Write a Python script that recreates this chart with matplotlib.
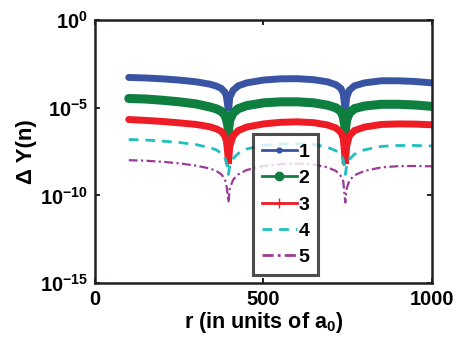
"""Log-scale error profiles Delta Y(n) against radius for five orders."""

import matplotlib
matplotlib.use("Agg")
import matplotlib.pyplot as plt
from matplotlib.lines import Line2D
import numpy as np

plt.rcParams["font.family"] = ["Liberation Sans", "DejaVu Sans"]
plt.rcParams["font.weight"] = "bold"
plt.rcParams["mathtext.fontset"] = "custom"
plt.rcParams["mathtext.rm"] = "Liberation Sans:bold"
plt.rcParams["mathtext.bf"] = "Liberation Sans:bold"
plt.rcParams["mathtext.it"] = "Liberation Sans:bold"

# radius in units of a0
r = [100, 150, 200, 250, 300, 340, 360, 375, 385, 390, 394, 396, 400, 410,
     425, 450, 500, 550, 600, 650, 690, 715, 730, 737, 741, 743, 747, 755,
     770, 800, 850, 900, 950, 1000]

# log10 of Delta Y(n) for n = 1..5
logdy_1 = [-3.27, -3.30, -3.35, -3.42, -3.52, -3.65, -3.76, -3.90, -4.10, -4.35,
           -4.90, -5.20, -4.40, -4.00, -3.75, -3.58, -3.42, -3.35, -3.34, -3.40,
           -3.52, -3.68, -3.90, -4.20, -4.90, -5.20, -4.40, -4.00, -3.75, -3.58,
           -3.46, -3.46, -3.50, -3.58]
logdy_2 = [-4.47, -4.50, -4.57, -4.66, -4.78, -4.95, -5.06, -5.20, -5.40, -5.65,
           -6.00, -6.30, -5.70, -5.30, -5.05, -4.88, -4.72, -4.66, -4.66, -4.72,
           -4.85, -5.00, -5.20, -5.50, -6.00, -6.30, -5.70, -5.30, -5.05, -4.90,
           -4.80, -4.80, -4.84, -4.92]
logdy_3 = [-5.67, -5.72, -5.78, -5.86, -5.95, -6.08, -6.20, -6.35, -6.60, -6.90,
           -7.60, -8.20, -7.20, -6.60, -6.30, -6.10, -5.92, -5.83, -5.80, -5.85,
           -5.98, -6.15, -6.40, -6.75, -7.60, -8.20, -7.20, -6.60, -6.30, -6.10,
           -5.95, -5.92, -5.93, -5.97]
logdy_4 = [-6.81, -6.84, -6.90, -6.98, -7.10, -7.27, -7.40, -7.60, -7.85, -8.10,
           -8.50, -8.80, -8.30, -7.90, -7.60, -7.35, -7.15, -7.06, -7.04, -7.10,
           -7.25, -7.45, -7.70, -7.95, -8.50, -8.80, -8.30, -7.95, -7.65, -7.40,
           -7.20, -7.15, -7.15, -7.18]
logdy_5 = [-7.99, -8.02, -8.08, -8.17, -8.30, -8.46, -8.60, -8.80, -9.05, -9.40,
           -10.00, -10.40, -9.60, -9.10, -8.80, -8.55, -8.32, -8.22, -8.18, -8.24,
           -8.40, -8.60, -8.90, -9.20, -10.00, -10.40, -9.60, -9.15, -8.85, -8.60,
           -8.40, -8.33, -8.32, -8.34]

labels = ["1", "2", "3", "4", "5"]
series = [logdy_1, logdy_2, logdy_3, logdy_4, logdy_5]
colors = ["#3a54a4", "#0e7f3e", "#ee1c24", "#1fbfbf", "#9a3a9a"]
markers = [".", "o", "+", None, None]
styles = ["-", "-", "-", (0, (3.5, 2.5)), (0, (4, 1.5, 1, 1.5))]
widths = [5.0, 6.5, 5.0, 2.0, 1.6]

fig = plt.figure(figsize=(4.57, 3.53), dpi=100)
ax = fig.add_axes([0.208, 0.198, 0.737, 0.745])

for vals, c, ls, lw in zip(series, colors, styles, widths):
    ax.semilogy(r, 10.0 ** np.array(vals), color=c, linestyle=ls,
                linewidth=lw, solid_capstyle="round", solid_joinstyle="miter",
                dash_capstyle="butt")

ax.set_xlim(0, 1000)
ax.set_ylim(1e-15, 1e0)
ax.set_xticks([0, 500, 1000])
ax.set_yticks([1e0, 1e-5, 1e-10, 1e-15])
ax.minorticks_off()
ax.tick_params(direction="in", length=3.5, width=1.2, labelsize=14.5,
               top=True, right=True, pad=5)
for s in ax.spines.values():
    s.set_linewidth(1.8)
    s.set_color("#231f20")

ax.set_xlabel("r (in units of a$_0$)", fontsize=15.5, fontweight="bold",
              labelpad=1)
ax.set_ylabel("Δ Y(n)", fontsize=16, fontweight="bold", labelpad=2)

handles = [Line2D([], [], color=c, linestyle=ls, linewidth=2.0, marker=m,
                  markersize=6 if m == "o" else 7, markerfacecolor=c)
           for c, ls, m in zip(colors, styles, markers)]
leg = ax.legend(handles, labels, loc="lower left",
                bbox_to_anchor=(253 / 457, (353 - 275) / 353),
                bbox_transform=fig.transFigure, fontsize=14, frameon=True,
                fancybox=False, handlelength=1.8, handletextpad=0.1,
                labelspacing=0.45, borderpad=0.45, borderaxespad=0)
leg.get_frame().set_edgecolor("#231f20")
leg.get_frame().set_linewidth(2.2)
for t in leg.get_texts():
    t.set_fontweight("bold")

fig.savefig("out.png", dpi=100)
